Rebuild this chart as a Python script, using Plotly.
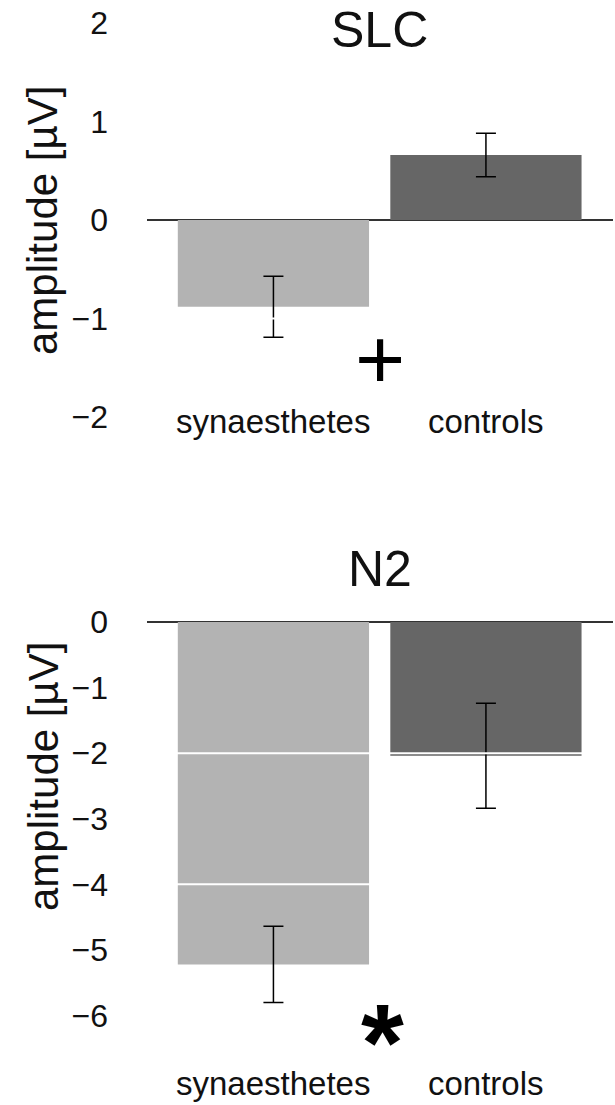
import plotly.graph_objects as go

categories = ["synaesthetes", "controls"]
slc_values = [-0.88, 0.66]
slc_errors = [0.31, 0.22]
n2_values = [-5.22, -2.04]
n2_errors = [0.58, 0.80]
bar_colors = ["#b3b3b3", "#666666"]
slc_ticks = [-2, -1, 0, 1, 2]
n2_ticks = [-6, -5, -4, -3, -2, -1, 0]
slc_grid = [-1, 1]
n2_grid = [-2, -4, -6]
panel_titles = ["SLC", "N2"]
significance = ["+", "*"]
y_title = "amplitude [µV]"

FONT = "Liberation Sans, Arial, Helvetica, sans-serif"

fig = go.Figure()

fig.add_trace(go.Bar(
    x=categories, y=slc_values, marker=dict(color=bar_colors, line=dict(width=0)),
    error_y=dict(type="data", array=slc_errors, color="black", thickness=1.5, width=10),
    xaxis="x", yaxis="y", showlegend=False, hoverinfo="skip"))
fig.add_trace(go.Bar(
    x=categories, y=n2_values, marker=dict(color=bar_colors, line=dict(width=0)),
    error_y=dict(type="data", array=n2_errors, color="black", thickness=1.5, width=10),
    xaxis="x2", yaxis="y2", showlegend=False, hoverinfo="skip"))

xrange = [-0.595, 1.598]
xdomain = [147 / 615, 613 / 615]
axis_common = dict(showgrid=False, zeroline=False, showline=False, showticklabels=False,
                   ticks="", automargin=False)

yaxis_common = dict(showgrid=False, zeroline=True, zerolinecolor="#333333", zerolinewidth=2,
                    showline=False, ticks="", tickfont=dict(family=FONT, size=32, color="#111111"),
                    ticklabelstandoff=38, layer="above traces", automargin=False)

fig.update_layout(
    width=615, height=1105, autosize=False,
    margin=dict(l=0, r=0, t=0, b=0, pad=0, autoexpand=False),
    paper_bgcolor="white", plot_bgcolor="white",
    bargap=0.1,
    xaxis=dict(domain=xdomain, range=xrange, anchor="y", type="category", **axis_common),
    xaxis2=dict(domain=xdomain, range=xrange, anchor="y2", type="category", **axis_common),
    yaxis=dict(domain=[1 - 430 / 1105, 1 - 15 / 1105], range=[-2.132, 2.081],
               tickvals=slc_ticks, anchor="x", **yaxis_common),
    yaxis2=dict(domain=[1 - 1100 / 1105, 1 - 600 / 1105], range=[-7.287, 0.335],
                tickvals=n2_ticks, anchor="x2", **yaxis_common),
)

shapes = []
for g in slc_grid:
    shapes.append(dict(type="line", xref="x domain", yref="y", x0=0, x1=1, y0=g, y1=g,
                       line=dict(color="white", width=2), layer="above"))
for g in n2_grid:
    shapes.append(dict(type="line", xref="x2 domain", yref="y2", x0=0, x1=1, y0=g, y1=g,
                       line=dict(color="white", width=2), layer="above"))
fig.update_layout(shapes=shapes)

ann = []
# panel titles
ann.append(dict(x=0.5, y=1 - 30 / 1105, xref="x", yref="paper", text=panel_titles[0],
                showarrow=False, xanchor="center", yanchor="middle",
                font=dict(family=FONT, size=50, color="#111111")))
ann.append(dict(x=0.5, y=1 - 569 / 1105, xref="x2", yref="paper", text=panel_titles[1],
                showarrow=False, xanchor="center", yanchor="middle",
                font=dict(family=FONT, size=50, color="#111111")))
# category labels
for c in categories:
    ann.append(dict(x=c, y=-2.05, xref="x", yref="y", text=c, showarrow=False,
                    xanchor="center", yanchor="middle",
                    font=dict(family=FONT, size=33, color="#111111")))
    ann.append(dict(x=c, y=-7.03, xref="x2", yref="y2", text=c, showarrow=False,
                    xanchor="center", yanchor="middle",
                    font=dict(family=FONT, size=33, color="#111111")))
# significance marks
ann.append(dict(x=0.503, y=-1.41, xref="x", yref="y", text=significance[0],
                xanchor="center", yanchor="middle",
                showarrow=False, font=dict(family=FONT, size=86, color="black")))
ann.append(dict(x=0.515, y=-6.39, xref="x2", yref="y2", text="<b>%s</b>" % significance[1],
                xanchor="center", yanchor="middle",
                showarrow=False, font=dict(family=FONT, size=110, color="black")))
# y titles
ann.append(dict(x=43 / 615, y=1 - 221 / 1105, xref="paper", yref="paper", text=y_title,
                xanchor="center", yanchor="middle",
                textangle=-90, showarrow=False, font=dict(family=FONT, size=42, color="#111111")))
ann.append(dict(x=43 / 615, y=1 - 777 / 1105, xref="paper", yref="paper", text=y_title,
                xanchor="center", yanchor="middle",
                textangle=-90, showarrow=False, font=dict(family=FONT, size=42, color="#111111")))
fig.update_layout(annotations=ann)

fig.write_html("out.html", config={"displayModeBar": False},
               post_script="document.body.style.margin='0';document.body.style.overflow='hidden';")
